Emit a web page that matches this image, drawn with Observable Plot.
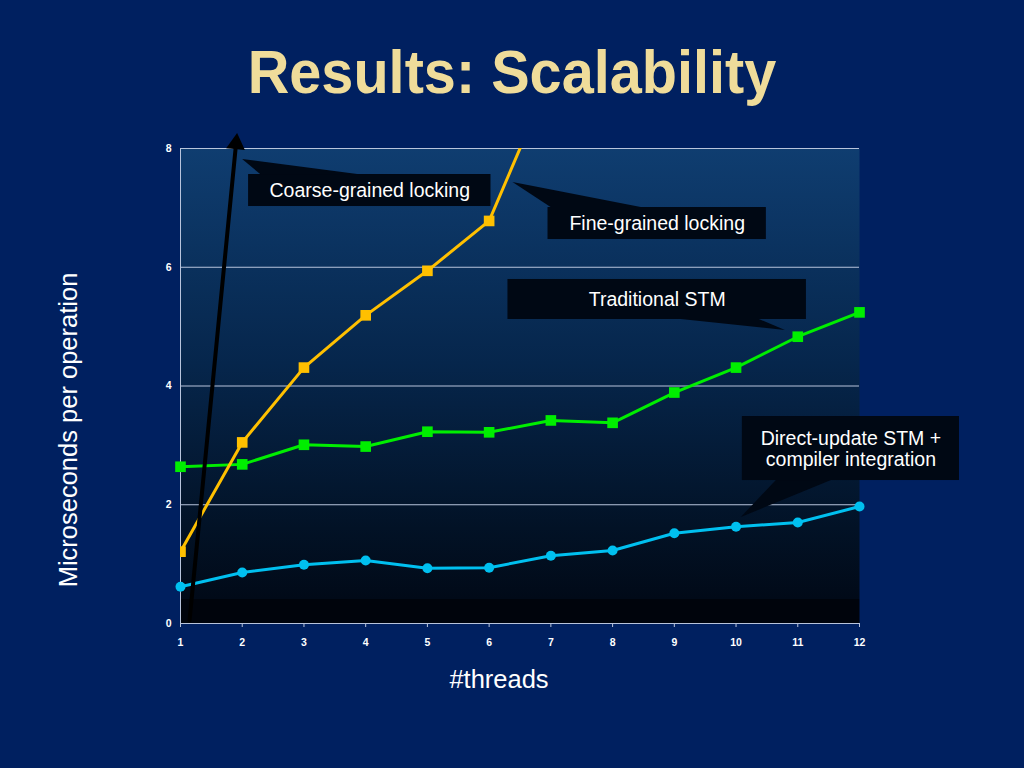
<!DOCTYPE html>
<html>
<head>
<meta charset="utf-8">
<script src="https://cdn.jsdelivr.net/npm/d3@7"></script>
<script src="https://cdn.jsdelivr.net/npm/@observablehq/plot@0.6"></script>
<style>
html, body { margin: 0; padding: 0; background: #002060; }
#wrap { position: relative; width: 1024px; height: 768px; overflow: hidden; background: #002060; font-family: "Liberation Sans", Arial, sans-serif; }
#title { position: absolute; left: 512px; top: 72px; transform: translate(-50%, -50%) scaleX(0.93); color: #efdc9a; font-weight: bold; font-size: 62px; line-height: 70px; white-space: nowrap; }
#ylabel { position: absolute; left: 68px; top: 430px; transform: translate(-50%, -50%) rotate(-90deg); color: #ffffff; font-size: 25.5px; white-space: nowrap; }
#xlabel { position: absolute; left: 499px; top: 679px; transform: translate(-50%, -50%); color: #ffffff; font-size: 25.5px; white-space: nowrap; }
#chart { position: absolute; left: 0; top: 0; }
</style>
</head>
<body>
<div id="wrap">
  <div id="chart"></div>
  <div id="title">Results: Scalability</div>
  <div id="ylabel">Microseconds per operation</div>
  <div id="xlabel">#threads</div>
</div>
<script>
// ---- data ----
const threads = [1, 2, 3, 4, 5, 6, 7, 8, 9, 10, 11, 12];
const yTicks = [0, 2, 4, 6, 8];
const fineThreads = [1, 2, 3, 4, 5, 6, 7];
const fineGrained = [1.21, 3.05, 4.31, 5.19, 5.94, 6.78, 9.22];
const traditionalSTM = [2.64, 2.68, 3.01, 2.98, 3.23, 3.22, 3.42, 3.38, 3.89, 4.31, 4.83, 5.24];
const directUpdateSTM = [0.62, 0.86, 0.99, 1.06, 0.93, 0.94, 1.14, 1.23, 1.52, 1.63, 1.70, 1.97];
// coarse-grained locking: shoots off the chart (drawn as an arrow)
const coarseX = [1.146, 1.90];
const coarseY = [0.05, 8.08];
// callout annotations (data units)
const calloutText = ["Coarse-grained locking", "Fine-grained locking", "Traditional STM", "Direct-update STM +\ncompiler integration"];
const calloutX1 = [2.103, 6.954, 6.305, 10.102];
const calloutX2 = [6.03, 10.491, 11.14, 13.62];
const calloutY1 = [7.023, 6.467, 5.12, 2.408];
const calloutY2 = [7.562, 7.006, 5.794, 3.486];
const pointerBaseY = [7.562, 7.006, 5.12, 2.408];
const pointerBaseX1 = [2.298, 7.003, 9.112, 10.653];
const pointerBaseX2 = [3.872, 8.463, 10.378, 11.546];
const pointerTipX = [2.006, 6.386, 10.80, 10.086];
const pointerTipY = [7.815, 7.427, 4.935, 1.785];

// ---- build tables ----
const fineData = fineThreads.map((t, i) => ({t, v: fineGrained[i]}));
const tradData = threads.map((t, i) => ({t, v: traditionalSTM[i]}));
const directData = threads.map((t, i) => ({t, v: directUpdateSTM[i]}));
const coarseData = coarseX.map((x, i) => ({x, y: coarseY[i]}));
const callouts = calloutText.map((text, i) => ({
  text, x1: calloutX1[i], x2: calloutX2[i], y1: calloutY1[i], y2: calloutY2[i],
  cx: (calloutX1[i] + calloutX2[i]) / 2, cy: (calloutY1[i] + calloutY2[i]) / 2
}));
const pointerMarks = calloutText.map((_, i) => Plot.areaX(
  [{y: pointerBaseY[i], a: pointerBaseX1[i], b: pointerBaseX2[i]}, {y: pointerTipY[i], a: pointerTipX[i], b: pointerTipX[i]}],
  {y: "y", x1: "a", x2: "b", fill: "#000814", curve: "linear"}
));

const chart = Plot.plot({
  width: 1024,
  height: 768,
  marginLeft: 180,
  marginRight: 165,
  marginTop: 148,
  marginBottom: 145,
  style: {background: "transparent", color: "#ffffff", fontFamily: "'Liberation Sans', Arial, sans-serif", overflow: "visible"},
  x: {domain: [1, 12]},
  y: {domain: [0, 8]},
  marks: [
    Plot.frame({fill: "url(#plotbg)", stroke: null}),
    Plot.gridY(yTicks.filter(d => d > 0), {stroke: "#b8c4dc", strokeOpacity: 1, strokeWidth: 1}),
    Plot.ruleX([1], {stroke: "#b8c4dc", strokeWidth: 1}),
    Plot.ruleY([0], {stroke: "#b8c4dc", strokeWidth: 1}),
    Plot.axisX({ticks: threads, tickSize: 4, tickPadding: 11, label: null, fontSize: 10.5, fontWeight: "bold", stroke: "#b8c4dc", tickFormat: d => String(d)}),
    Plot.axisY({ticks: yTicks, tickSize: 0, tickPadding: 9, label: null, fontSize: 10.5, fontWeight: "bold", tickFormat: d => String(d)}),
    // series
    Plot.line(directData, {x: "t", y: "v", stroke: "#00c0f0", strokeWidth: 3}),
    Plot.dot(directData, {x: "t", y: "v", fill: "#00c0f0", r: 5, stroke: null}),
    Plot.line(tradData, {x: "t", y: "v", stroke: "#00ee00", strokeWidth: 3}),
    Plot.dot(tradData, {x: "t", y: "v", symbol: "square", fill: "#00ee00", r: 6, stroke: null}),
    Plot.line(fineData, {x: "t", y: "v", stroke: "#ffc000", strokeWidth: 3, clip: true}),
    Plot.dot(fineData, {x: "t", y: "v", symbol: "square", fill: "#ffc000", r: 6, stroke: null, clip: true}),
    // coarse-grained arrow
    Plot.line(coarseData, {x: "x", y: "y", stroke: "#000000", strokeWidth: 4}),
    Plot.dot(coarseData.slice(1), {x: "x", y: "y", symbol: "triangle", fill: "#000000", stroke: null, r: 7, rotate: 5.6}),
    // callouts
    ...pointerMarks,
    Plot.rect(callouts, {x1: "x1", x2: "x2", y1: "y1", y2: "y2", fill: "#000814"}),
    Plot.text(callouts, {x: "cx", y: "cy", text: "text", fill: "#ffffff", fontSize: 19.5, lineHeight: 1.1, textAnchor: "middle"})
  ]
});

const ns = "http://www.w3.org/2000/svg";
const defs = document.createElementNS(ns, "defs");
defs.innerHTML = '<linearGradient id="plotbg" x1="0" y1="0" x2="0" y2="1">' +
  '<stop offset="0" stop-color="#0f3d70"/>' +
  '<stop offset="0.45" stop-color="#06264c"/>' +
  '<stop offset="0.8" stop-color="#021226"/>' +
  '<stop offset="0.948" stop-color="#010a18"/>' +
  '<stop offset="0.948" stop-color="#00040c"/>' +
  '<stop offset="1" stop-color="#00040c"/>' +
  '</linearGradient>';
chart.insertBefore(defs, chart.firstChild);
document.getElementById("chart").appendChild(chart);
</script>
</body>
</html>
